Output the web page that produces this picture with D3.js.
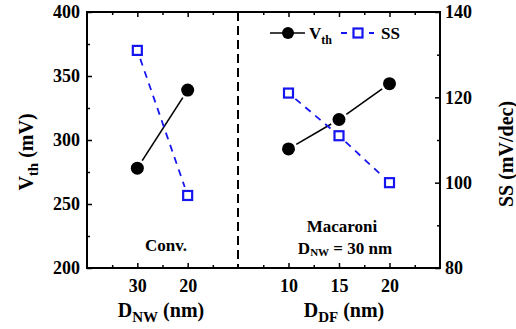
<!DOCTYPE html>
<html><head><meta charset="utf-8">
<script src="https://cdn.jsdelivr.net/npm/d3@7"></script>
<style>
body{margin:0;background:#fff;}
svg text{font-family:"Liberation Serif","Times New Roman",serif;font-weight:bold;fill:#000;}
</style></head>
<body><svg id="c" width="516" height="329"></svg>
<script>
// ---- data ----
const convDnw = [30, 20];
const convVth = [278, 339];
const convSS  = [131, 97];
const macDdf  = [10, 15, 20];
const macVth  = [293, 316, 344];
const macSS   = [121, 111, 100];
const vthTicks = [200, 250, 300, 350, 400];
const vthMinor = [225, 275, 325, 375];
const ssTicks  = [80, 100, 120, 140];
const ssMinor  = [90, 110, 130];
const dnwTicks = [30, 20];
const dnwMinor = [35, 25, 15];
const ddfTicks = [10, 15, 20];
const ddfMinor = [7.5, 12.5, 17.5, 22.5];

const svg = d3.select("#c");
const L = 87, R = 440, T = 12, B = 268, MID = 238;
const xL = d3.scaleLinear().domain([40, 10]).range([L, MID]);
const xR = d3.scaleLinear().domain([5, 25]).range([MID, R]);
const yV = d3.scaleLinear().domain([200, 400]).range([B, T]);
const yS = d3.scaleLinear().domain([80, 140]).range([B, T]);
const blue = "#1515f0";

function styleAxis(g, fs) {
  g.select(".domain").remove();
  g.selectAll(".tick line").attr("stroke", "#000").attr("stroke-width", 1.5);
  g.selectAll("text").style("font-size", fs + "px").attr("fill", "#000");
}
function addAxis(axis, tx, ty, fs) {
  const g = svg.append("g").attr("transform", `translate(${tx},${ty})`).call(axis);
  styleAxis(g, fs || 18);
  return g;
}
// bottom axes
addAxis(d3.axisBottom(xL).tickValues(dnwTicks).tickSize(-5).tickPadding(11).tickFormat(d3.format("d")), 0, B);
addAxis(d3.axisBottom(xL).tickValues(dnwMinor).tickSize(-3).tickFormat(""), 0, B);
addAxis(d3.axisBottom(xR).tickValues(ddfTicks).tickSize(-5).tickPadding(11).tickFormat(d3.format("d")), 0, B);
addAxis(d3.axisBottom(xR).tickValues(ddfMinor).tickSize(-3).tickFormat(""), 0, B);
// top mirror ticks
addAxis(d3.axisTop(xL).tickValues(dnwTicks).tickSize(-5).tickFormat(""), 0, T);
addAxis(d3.axisTop(xL).tickValues(dnwMinor).tickSize(-3).tickFormat(""), 0, T);
addAxis(d3.axisTop(xR).tickValues(ddfTicks).tickSize(-5).tickFormat(""), 0, T);
addAxis(d3.axisTop(xR).tickValues(ddfMinor).tickSize(-3).tickFormat(""), 0, T);
// left
addAxis(d3.axisLeft(yV).tickValues(vthTicks).tickSize(-5).tickPadding(7).tickFormat(d3.format("d")), L, 0);
addAxis(d3.axisLeft(yV).tickValues(vthMinor).tickSize(-3).tickFormat(""), L, 0);
// right
addAxis(d3.axisRight(yS).tickValues(ssTicks).tickSize(-5).tickPadding(5).tickFormat(d3.format("d")), R, 0);
addAxis(d3.axisRight(yS).tickValues(ssMinor).tickSize(-3).tickFormat(""), R, 0);

// frame
svg.append("rect").attr("x", L).attr("y", T).attr("width", R - L).attr("height", B - T)
  .attr("fill", "none").attr("stroke", "#000").attr("stroke-width", 2);
// divider
svg.append("line").attr("x1", MID).attr("x2", MID).attr("y1", T).attr("y2", B)
  .attr("stroke", "#000").attr("stroke-width", 2).attr("stroke-dasharray", "9,5");

// series drawing with gaps near markers
function seg(pts, gap) {
  const out = [];
  for (let i = 0; i < pts.length - 1; i++) {
    const [x1, y1] = pts[i], [x2, y2] = pts[i + 1];
    const dx = x2 - x1, dy = y2 - y1, len = Math.hypot(dx, dy);
    const ux = dx / len, uy = dy / len;
    out.push([x1 + ux * gap, y1 + uy * gap, x2 - ux * gap, y2 - uy * gap]);
  }
  return out;
}
function drawVth(xs, vals, xsc) {
  const pts = xs.map((d, i) => [xsc(d), yV(vals[i])]);
  svg.append("g").selectAll("line").data(seg(pts, 9)).join("line")
    .attr("x1", d => d[0]).attr("y1", d => d[1]).attr("x2", d => d[2]).attr("y2", d => d[3])
    .attr("stroke", "#000").attr("stroke-width", 1.6);
  svg.append("g").selectAll("circle").data(pts).join("circle")
    .attr("cx", d => d[0]).attr("cy", d => d[1]).attr("r", 6.5).attr("fill", "#000");
}
function drawSS(xs, vals, xsc) {
  const pts = xs.map((d, i) => [xsc(d), yS(vals[i])]);
  svg.append("g").selectAll("line").data(seg(pts, 9)).join("line")
    .attr("x1", d => d[0]).attr("y1", d => d[1]).attr("x2", d => d[2]).attr("y2", d => d[3])
    .attr("stroke", blue).attr("stroke-width", 1.8).attr("stroke-dasharray", "7,6");
  svg.append("g").selectAll("rect").data(pts).join("rect")
    .attr("x", d => d[0] - 4.5).attr("y", d => d[1] - 4.5).attr("width", 9).attr("height", 9)
    .attr("fill", "#fff").attr("stroke", blue).attr("stroke-width", 2.2);
}
drawVth(convDnw, convVth, xL);
drawSS(convDnw, convSS, xL);
drawVth(macDdf, macVth, xR);
drawSS(macDdf, macSS, xR);

// legend
const lg = svg.append("g");
lg.append("line").attr("x1", 270).attr("x2", 305).attr("y1", 33).attr("y2", 33).attr("stroke", "#000").attr("stroke-width", 1.6);
lg.append("circle").attr("cx", 288).attr("cy", 33).attr("r", 6).attr("fill", "#000");
const lt1 = lg.append("text").attr("x", 309).attr("y", 39).style("font-size", "17px");
lt1.append("tspan").text("V");
lt1.append("tspan").attr("dy", 5).style("font-size", "12px").text("th");
lg.append("line").attr("x1", 341).attr("x2", 374).attr("y1", 33).attr("y2", 33).attr("stroke", blue).attr("stroke-width", 1.8).attr("stroke-dasharray", "6,22");
lg.append("rect").attr("x", 353.5).attr("y", 28.5).attr("width", 9).attr("height", 9).attr("fill", "#fff").attr("stroke", blue).attr("stroke-width", 2.2);
lg.append("text").attr("x", 381).attr("y", 39).style("font-size", "17px").text("SS");

// annotations
svg.append("text").attr("x", 166).attr("y", 251).attr("text-anchor", "middle").style("font-size", "17px").text("Conv.");
svg.append("text").attr("x", 342).attr("y", 232).attr("text-anchor", "middle").style("font-size", "17px").text("Macaroni");
const dn = svg.append("text").attr("x", 345).attr("y", 254).attr("text-anchor", "middle").style("font-size", "17px");
dn.append("tspan").text("D");
dn.append("tspan").attr("dy", 2).style("font-size", "11px").text("NW");
dn.append("tspan").attr("dy", -2).text(" = 30 nm");

// axis titles
const xt1 = svg.append("text").attr("x", 161).attr("y", 317).attr("text-anchor", "middle").style("font-size", "20px");
xt1.append("tspan").text("D");
xt1.append("tspan").attr("dy", 5).style("font-size", "15px").text("NW");
xt1.append("tspan").attr("dy", -5).text(" (nm)");
const xt2 = svg.append("text").attr("x", 344).attr("y", 317).attr("text-anchor", "middle").style("font-size", "20px");
xt2.append("tspan").text("D");
xt2.append("tspan").attr("dy", 5).style("font-size", "15px").text("DF");
xt2.append("tspan").attr("dy", -5).text(" (nm)");
const yt1 = svg.append("text").attr("transform", "translate(33,152) rotate(-90)").attr("text-anchor", "middle").style("font-size", "20px");
yt1.append("tspan").text("V");
yt1.append("tspan").attr("dy", 5).style("font-size", "15px").text("th");
yt1.append("tspan").attr("dy", -5).text(" (mV)");
svg.append("text").attr("transform", "translate(513,154) rotate(-90)").attr("text-anchor", "middle").style("font-size", "20px").text("SS (mV/dec)");
</script></body></html>
